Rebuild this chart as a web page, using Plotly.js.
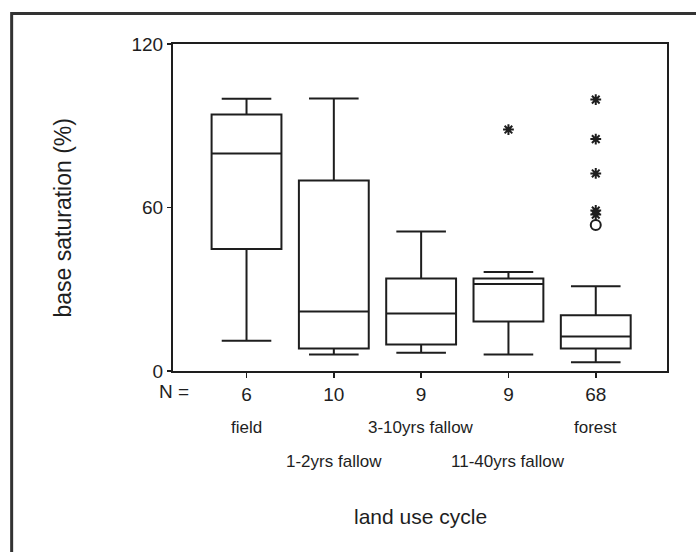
<!DOCTYPE html>
<html>
<head>
<meta charset="utf-8">
<script src="https://cdn.plot.ly/plotly-3.0.1.min.js"></script>
<style>
  html, body { margin: 0; padding: 0; background: #ffffff; }
  #chart { width: 696px; height: 552px; }
</style>
</head>
<body>
<div id="chart"></div>
<script>
// Land use cycle groups, in drawing order
const categories = ["field", "1-2yrs fallow", "3-10yrs fallow", "11-40yrs fallow", "forest"];
const sampleSizes = ["6", "10", "9", "9", "68"];

// Box statistics of base saturation (%) per group
const lowerWhisker = [11.1, 6.1, 6.7, 6.1, 3.2];
const quartile1    = [44.8, 8.3, 9.7, 18.2, 8.3];
const medians      = [79.8, 21.8, 21.1, 31.9, 12.7];
const quartile3    = [94.1, 69.9, 33.9, 33.9, 20.5];
const upperWhisker = [99.9, 100.0, 51.2, 36.3, 31.1];

// Extreme values (asterisks) and outliers (circles): group index and value
const extremeGroup = [3, 4, 4, 4, 4, 4];
const extremeValue = [88.6, 99.6, 85.1, 72.5, 58.9, 57.4];
const outlierGroup = [4];
const outlierValue = [53.6];

const ink = "#1e1e1e";
const positions = categories.map((_, i) => i);

const boxes = {
  type: "box",
  x: positions,
  lowerfence: lowerWhisker,
  q1: quartile1,
  median: medians,
  q3: quartile3,
  upperfence: upperWhisker,
  width: 0.8,
  whiskerwidth: 0.71,
  fillcolor: "rgba(255,255,255,0)",
  line: { color: ink, width: 2 },
  boxpoints: false,
  hoverinfo: "skip"
};

const extremes = {
  type: "scatter",
  mode: "markers",
  x: extremeGroup,
  y: extremeValue,
  marker: { symbol: "asterisk-open", size: 9, color: ink, line: { color: ink, width: 2 } },
  hoverinfo: "skip"
};

const outliers = {
  type: "scatter",
  mode: "markers",
  x: outlierGroup,
  y: outlierValue,
  marker: { symbol: "circle-open", size: 10, color: ink, line: { color: ink, width: 2 } },
  hoverinfo: "skip"
};

const font = "Liberation Sans, Arial, sans-serif";

// Group names sit on two staggered rows below the N counts
const nameAnnotations = categories.map((name, i) => ({
  x: i, xref: "x",
  y: i % 2 === 0 ? -0.174 : -0.278, yref: "paper",
  text: name, showarrow: false,
  xanchor: "center", yanchor: "middle",
  font: { family: font, size: 17, color: ink }
}));

const layout = {
  width: 696,
  height: 552,
  margin: { l: 173, r: 29, t: 44, b: 181 },
  paper_bgcolor: "#ffffff",
  plot_bgcolor: "#ffffff",
  showlegend: false,
  font: { family: font, color: ink },
  xaxis: {
    type: "linear",
    range: [-0.842, 4.816],
    tickvals: positions,
    ticktext: sampleSizes,
    ticks: "outside", ticklen: 5, tickwidth: 1.5, tickcolor: ink,
    showgrid: false, zeroline: false,
    showline: true, linecolor: ink, linewidth: 2, mirror: true,
    tickfont: { family: font, size: 19, color: ink },
    fixedrange: true
  },
  yaxis: {
    range: [0, 120],
    tickvals: [0, 60, 120],
    ticks: "outside", ticklen: 4, tickwidth: 1.5, tickcolor: ink,
    showgrid: false, zeroline: false,
    showline: true, linecolor: ink, linewidth: 2, mirror: true,
    tickfont: { family: font, size: 19, color: ink },
    fixedrange: true
  },
  annotations: [
    {
      x: 0.036, xref: "paper", y: -0.063, yref: "paper",
      text: "N =", showarrow: false, xanchor: "right", yanchor: "middle",
      font: { family: font, size: 19, color: ink }
    },
    ...nameAnnotations,
    {
      x: 0.5, xref: "paper", y: -0.446, yref: "paper",
      text: "land use cycle", showarrow: false, xanchor: "center", yanchor: "middle",
      font: { family: font, size: 21, color: ink }
    },
    {
      x: -0.223, xref: "paper", y: 0.469, yref: "paper",
      text: "base saturation (%)", showarrow: false, textangle: -90,
      xanchor: "center", yanchor: "middle",
      font: { family: font, size: 23, color: ink }
    }
  ],
  shapes: [
    {
      // outer figure frame
      type: "rect", xref: "paper", yref: "paper",
      x0: -0.3266, x1: 1.3, y0: -1.2, y1: 1.093,
      line: { color: "#333333", width: 3 },
      fillcolor: "rgba(0,0,0,0)"
    }
  ]
};

Plotly.newPlot("chart", [boxes, extremes, outliers], layout, { staticPlot: true, displayModeBar: false });
</script>
</body>
</html>
